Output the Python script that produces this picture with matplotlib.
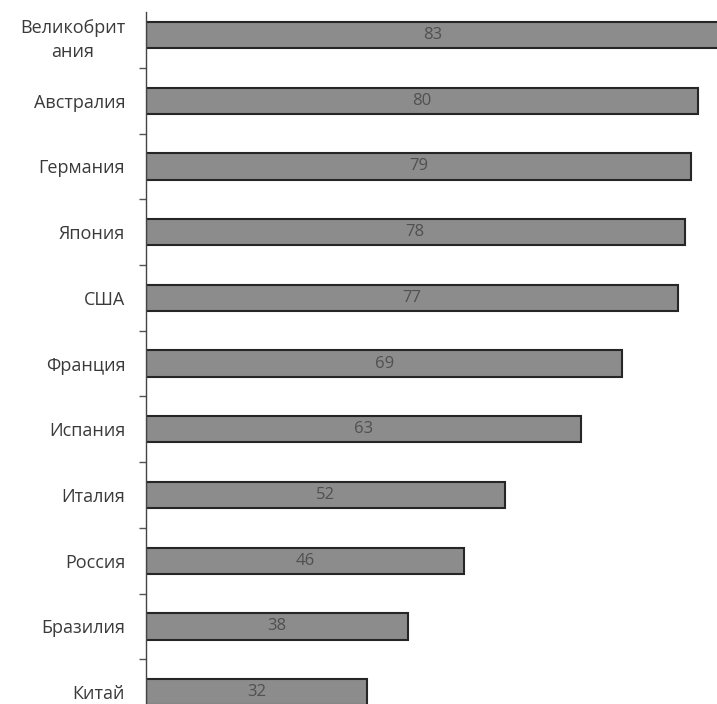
import matplotlib
matplotlib.use('Agg')
import matplotlib.pyplot as plt
import numpy as np

plt.rcParams['font.family'] = ['Open Sans', 'DejaVu Sans']

countries = ['Великобрит\nания', 'Австралия', 'Германия', 'Япония', 'США', 'Франция',
             'Испания', 'Италия', 'Россия', 'Бразилия', 'Китай']
values = [83, 80, 79, 78, 77, 69, 63, 52, 46, 38, 32]

text_color = '#3a3a3a'

fig = plt.figure(figsize=(7.17, 7.04), dpi=100)
ax = fig.add_axes([146 / 717, 0, 1 - 146 / 717, 1 - 12 / 704])

pos = np.arange(len(countries))
ax.barh(pos, values, height=0.4, color='#8c8c8c', edgecolor='#262626', linewidth=1.5, clip_on=True)

for p, v in zip(pos, values):
    ax.text(v / 2, p, str(v), ha='center', va='center', fontsize=12, color='#505050')

ax.set_xlim(0, 82.7)
ax.set_ylim(10.18, -0.35)

ax.set_yticks(pos)
ax.set_yticklabels(countries, fontsize=13, color=text_color, ha='right',
                   multialignment='center', linespacing=1.45)
ax.tick_params(axis='y', which='major', length=0, pad=15)
ax.set_yticks(pos[:-1] + 0.5, minor=True)
ax.tick_params(axis='y', which='minor', length=5, width=1, color='#555555', direction='out')
ax.set_xticks([])

for s in ['top', 'right', 'bottom']:
    ax.spines[s].set_visible(False)
ax.spines['left'].set_color('#444444')
ax.spines['left'].set_linewidth(1)

fig.savefig('out.png', dpi=100)
